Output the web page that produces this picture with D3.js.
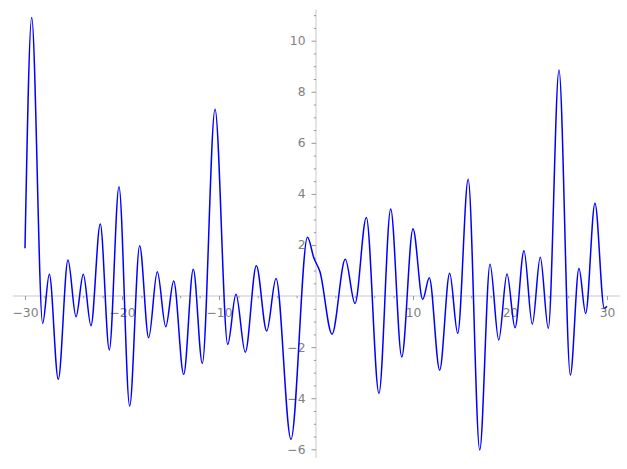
<!DOCTYPE html>
<html>
<head>
<meta charset="utf-8">
<script src="https://cdn.jsdelivr.net/npm/d3@7"></script>
<style>
  body { margin: 0; background: #fff; }
  svg { display: block; }
  .axis text { font-family: "DejaVu Sans", sans-serif; font-size: 12.3px; fill: #808080; }
  .axis line { stroke: #808080; stroke-width: 0.8; }
  .axis path { display: none; }
</style>
</head>
<body>
<svg id="chart" width="627" height="469"></svg>
<script>
// points (mostly its turning points)
var xs = [-30, -29.31, -28.18, -27.49, -26.57, -25.57, -24.74, -23.99, -23.2, -22.24,
  -21.31, -20.31, -19.21, -18.18, -17.25, -16.36, -15.49, -14.67, -13.64, -12.65,
  -11.72, -10.41, -9.1, -8.25, -7.29, -6.15, -5.08, -4.12, -2.58, -0.88,
  -0.21, 0.41, 1.65, 3.02, 4.02, 5.19, 6.49, 7.7, 8.84, 10.0,
  11.0, 11.68, 12.75, 13.78, 14.61, 15.69, 16.88, 17.94, 18.84, 19.69,
  20.52, 21.44, 22.3, 23.12, 23.95, 25.05, 26.22, 27.11, 27.8, 28.76,
  29.72, 30];
var ys = [1.87, 10.91, -1.07, 0.85, -3.26, 1.41, -0.81, 0.85, -1.16, 2.82,
  -2.11, 4.28, -4.3, 1.97, -1.63, 0.95, -1.2, 0.59, -3.07, 1.05,
  -2.64, 7.32, -1.89, 0.07, -2.2, 1.19, -1.37, 0.69, -5.61, 2.3,
  1.48, 0.95, -1.49, 1.44, -0.29, 3.08, -3.81, 3.41, -2.38, 2.64,
  -0.13, 0.72, -2.9, 0.89, -1.46, 4.57, -6.03, 1.25, -1.72, 0.86,
  -1.24, 1.77, -1.1, 1.52, -1.26, 8.85, -3.09, 1.08, -0.68, 3.63,
  -0.48, -0.4];

var xMajor = [-30, -20, -10, 10, 20, 30];
var yMajor = [-6, -4, -2, 2, 4, 6, 8, 10];

var data = xs.map(function(d, i){ return {x: d, y: ys[i]}; });

var svg = d3.select("#chart");

var x = d3.scaleLinear().domain([-30, 30]).range([25, 607]);
var y = d3.scaleLinear().domain([-6, 10]).range([449.3, 40.7]);

var xMinor = d3.range(-30, 31, 2).filter(function(d){ return d % 10 != 0; });
var yMinor = d3.range(-6, 11.01, 0.5).filter(function(d){ return d % 2 != 0; });

var fmt = function(d){ return d3.format("d")(d).replace("-", "\u2212"); };

// spines through the origin
svg.append("line")
  .attr("x1", x(-31.27)).attr("x2", x(31.3))
  .attr("y1", y(0)).attr("y2", y(0))
  .attr("stroke", "#e3e3e3").attr("stroke-width", 2);
svg.append("line")
  .attr("x1", x(0)).attr("x2", x(0))
  .attr("y1", y(11.22)).attr("y2", y(-6.34))
  .attr("stroke", "#e3e3e3").attr("stroke-width", 2);

var gx = svg.append("g").attr("class", "axis")
  .attr("transform", "translate(0," + y(0) + ")");
gx.call(d3.axisBottom(x).tickValues(xMinor).tickSize(2.2).tickFormat(""));
gx.append("g").call(d3.axisBottom(x).tickValues(xMajor).tickSize(4).tickPadding(8).tickFormat(fmt));

var gy = svg.append("g").attr("class", "axis")
  .attr("transform", "translate(" + x(0) + ",0)");
gy.call(d3.axisLeft(y).tickValues(yMinor).tickSize(2.2).tickFormat(""));
gy.append("g").call(d3.axisLeft(y).tickValues(yMajor).tickSize(4.5).tickPadding(6).tickFormat(fmt));

svg.selectAll(".axis .domain").remove();

var line = d3.line()
  .x(function(d){ return x(d.x); })
  .y(function(d){ return y(d.y); })
  .curve(d3.curveMonotoneX);

svg.append("path")
  .datum(data)
  .attr("d", line)
  .attr("fill", "none")
  .attr("stroke", "#0000ff")
  .attr("stroke-width", 1.5);
</script>
</body>
</html>
